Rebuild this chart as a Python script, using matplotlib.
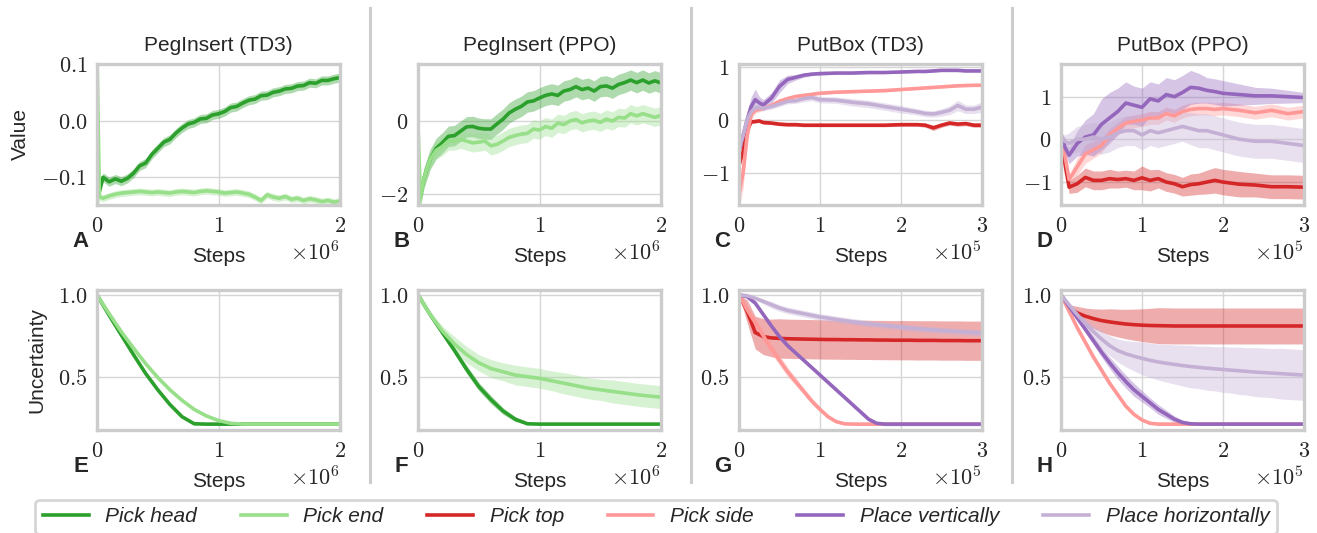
import numpy as np
import matplotlib
matplotlib.use("Agg")
import matplotlib.pyplot as plt
from matplotlib.lines import Line2D
from matplotlib.ticker import MultipleLocator, ScalarFormatter

plt.rcParams.update({
    "font.family": "Liberation Sans",
    "font.size": 15,
    "mathtext.fontset": "cm",
    "mathtext.default": "rm",
    "axes.edgecolor": "#cccccc",
    "axes.linewidth": 2.4,
    "axes.grid": True,
    "grid.color": "#d6d6d6",
    "grid.linewidth": 1.0,
    "xtick.major.size": 0,
    "ytick.major.size": 0,
    "xtick.major.pad": 8,
    "ytick.major.pad": 7,
    "xtick.labelsize": 16,
    "ytick.labelsize": 16,
    "axes.formatter.use_mathtext": True,
    "text.color": "#262626",
    "axes.labelcolor": "#262626",
    "xtick.color": "#262626",
    "ytick.color": "#262626",
})


class CMFormatter(ScalarFormatter):
    """ScalarFormatter whose labels are set in the Computer Modern math font."""

    def _set_format(self):
        super()._set_format()
        self.format = self.format.replace(r"\mathdefault", "")

    def get_offset(self):
        return super().get_offset().replace(r"\mathdefault", "")


TASKS = ["Pick head", "Pick end", "Pick top", "Pick side", "Place vertically", "Place horizontally"]
COLORS = ["#2ca02c", "#98df8a", "#d62728", "#ff9896", "#9467bd", "#c5b0d5"]
TITLES = ["PegInsert (TD3)", "PegInsert (PPO)", "PutBox (TD3)", "PutBox (PPO)"]
LETTERS = ["A", "B", "C", "D", "E", "F", "G", "H"]

# ---- value estimates, PegInsert (steps in millions) ----
steps_peg = [0.0, 0.02, 0.05, 0.10, 0.15, 0.20, 0.25, 0.30, 0.35, 0.40, 0.45, 0.50, 0.55, 0.60,
             0.65, 0.70, 0.75, 0.80, 0.85, 0.90, 0.95, 1.00, 1.05, 1.10, 1.15, 1.20, 1.25, 1.30,
             1.35, 1.40, 1.45, 1.50, 1.55, 1.60, 1.65, 1.70, 1.75, 1.80, 1.85, 1.90, 1.95, 2.00]

a_head = [-0.085, -0.125, -0.100, -0.108, -0.103, -0.107, -0.102, -0.093, -0.080, -0.075, -0.060,
          -0.049, -0.038, -0.033, -0.022, -0.013, -0.006, -0.003, 0.003, 0.004, 0.010, 0.012, 0.016,
          0.023, 0.025, 0.031, 0.036, 0.038, 0.044, 0.045, 0.050, 0.052, 0.056, 0.057, 0.061, 0.062,
          0.067, 0.066, 0.071, 0.071, 0.074, 0.076]
a_head_sd = 0.008
a_end = [0.12, -0.135, -0.137, -0.133, -0.130, -0.128, -0.127, -0.126, -0.125, -0.126, -0.127,
         -0.126, -0.127, -0.128, -0.126, -0.125, -0.126, -0.127, -0.125, -0.124, -0.125, -0.126,
         -0.128, -0.127, -0.126, -0.128, -0.130, -0.135, -0.141, -0.131, -0.135, -0.137, -0.134,
         -0.139, -0.137, -0.141, -0.138, -0.140, -0.143, -0.141, -0.144, -0.142]
a_end_sd = [0.30] + [0.006] * 41

b_head = [-2.10, -2.05, -1.55, -1.05, -0.75, -0.60, -0.42, -0.40, -0.28, -0.16, -0.15, -0.20,
          -0.22, -0.22, -0.08, 0.05, 0.22, 0.32, 0.40, 0.52, 0.55, 0.63, 0.70, 0.74, 0.70, 0.82,
          0.86, 0.94, 0.86, 0.90, 0.82, 0.94, 0.96, 0.90, 1.00, 1.05, 1.12, 1.05, 1.12, 1.04, 1.10, 1.04]
b_head_sd = 0.28
b_end = [-0.10, -2.10, -1.55, -1.05, -0.80, -0.70, -0.55, -0.55, -0.50, -0.55, -0.60, -0.58,
         -0.55, -0.68, -0.64, -0.55, -0.45, -0.40, -0.36, -0.34, -0.22, -0.25, -0.15, -0.20,
         -0.06, -0.10, 0.00, 0.04, -0.05, 0.00, 0.02, -0.04, 0.05, 0.00, 0.10, 0.08, 0.20, 0.14,
         0.20, 0.15, 0.10, 0.15]
b_end_sd = 0.25

# ---- value estimates, PutBox TD3 (steps in 1e5) ----
steps_c = [0.0, 0.05, 0.1, 0.15, 0.2, 0.25, 0.3, 0.4, 0.5, 0.6, 0.7, 0.8, 0.9, 1.0, 1.2, 1.4,
           1.6, 1.8, 2.0, 2.2, 2.3, 2.4, 2.5, 2.6, 2.7, 2.8, 2.9, 3.0]
c_top = [-0.85, -0.60, -0.20, -0.04, -0.03, -0.02, -0.05, -0.06, -0.08, -0.09, -0.09, -0.10, -0.10,
         -0.10, -0.10, -0.10, -0.10, -0.10, -0.09, -0.09, -0.10, -0.15, -0.10, -0.06, -0.08, -0.07,
         -0.10, -0.10]
c_top_sd = [0.10, 0.08, 0.05, 0.03, 0.03, 0.03, 0.03, 0.03, 0.03, 0.03, 0.03, 0.03, 0.03, 0.03,
            0.03, 0.03, 0.03, 0.03, 0.03, 0.03, 0.04, 0.05, 0.04, 0.04, 0.04, 0.04, 0.04, 0.04]
c_side = [-1.40, -1.00, -0.30, 0.10, 0.18, 0.20, 0.22, 0.27, 0.35, 0.40, 0.44, 0.46, 0.48, 0.50,
          0.52, 0.53, 0.54, 0.55, 0.57, 0.59, 0.60, 0.61, 0.62, 0.63, 0.64, 0.645, 0.65, 0.65]
c_side_sd = [0.25, 0.30, 0.20, 0.10, 0.06, 0.05, 0.04, 0.03, 0.03, 0.02, 0.02, 0.02, 0.02, 0.02,
             0.02, 0.02, 0.02, 0.02, 0.02, 0.02, 0.02, 0.02, 0.02, 0.02, 0.02, 0.02, 0.02, 0.02]
c_vert = [-0.57, -0.30, 0.00, 0.25, 0.38, 0.32, 0.28, 0.41, 0.63, 0.76, 0.80, 0.84, 0.86, 0.87,
          0.88, 0.88, 0.89, 0.89, 0.90, 0.91, 0.91, 0.92, 0.93, 0.93, 0.93, 0.92, 0.92, 0.92]
c_vert_sd = [0.10, 0.12, 0.15, 0.18, 0.20, 0.12, 0.10, 0.10, 0.12, 0.08, 0.05, 0.04, 0.03, 0.03,
             0.02, 0.02, 0.02, 0.02, 0.02, 0.02, 0.02, 0.02, 0.02, 0.02, 0.02, 0.02, 0.02, 0.02]
c_horiz = [-0.55, -0.30, 0.00, 0.15, 0.22, 0.23, 0.22, 0.25, 0.30, 0.35, 0.36, 0.40, 0.42, 0.38,
           0.37, 0.33, 0.30, 0.25, 0.20, 0.15, 0.12, 0.11, 0.14, 0.18, 0.27, 0.20, 0.20, 0.24]
c_horiz_sd = [0.10, 0.10, 0.10, 0.08, 0.06, 0.06, 0.05, 0.05, 0.05, 0.05, 0.05, 0.06, 0.06, 0.06,
              0.06, 0.07, 0.07, 0.07, 0.07, 0.06, 0.06, 0.06, 0.07, 0.08, 0.10, 0.08, 0.08, 0.10]

# ---- value estimates, PutBox PPO (steps in 1e5) ----
steps_d = [0.0, 0.05, 0.1, 0.2, 0.3, 0.4, 0.5, 0.6, 0.7, 0.8, 0.9, 1.0, 1.1, 1.2, 1.3, 1.4, 1.5,
           1.6, 1.7, 1.8, 1.9, 2.0, 2.2, 2.4, 2.6, 2.8, 3.0]
d_top = [0.05, -0.60, -1.13, -1.05, -0.90, -0.97, -0.97, -0.93, -0.95, -0.93, -0.97, -0.91, -0.97,
         -0.93, -1.01, -1.05, -1.12, -1.07, -1.05, -1.01, -0.97, -1.01, -1.06, -1.08, -1.12, -1.12, -1.13]
d_top_sd = [0.05, 0.15, 0.15, 0.20, 0.22, 0.22, 0.22, 0.22, 0.20, 0.20, 0.22, 0.28, 0.25, 0.22,
            0.22, 0.22, 0.22, 0.25, 0.25, 0.28, 0.30, 0.30, 0.30, 0.28, 0.28, 0.28, 0.28]
d_side = [0.05, -0.40, -0.95, -0.65, -0.35, -0.25, -0.15, 0.10, 0.25, 0.38, 0.42, 0.45, 0.50, 0.50,
          0.60, 0.55, 0.65, 0.70, 0.72, 0.72, 0.70, 0.72, 0.68, 0.62, 0.68, 0.60, 0.65]
d_side_sd = [0.05, 0.10, 0.12, 0.20, 0.22, 0.20, 0.18, 0.15, 0.15, 0.15, 0.15, 0.15, 0.15, 0.15,
             0.15, 0.15, 0.15, 0.15, 0.15, 0.15, 0.15, 0.15, 0.15, 0.15, 0.15, 0.15, 0.15]
d_vert = [0.10, -0.20, -0.38, -0.10, 0.05, 0.10, 0.35, 0.50, 0.65, 0.85, 0.80, 0.75, 0.95, 0.90,
          1.05, 1.00, 1.10, 1.22, 1.20, 1.15, 1.12, 1.08, 1.05, 1.02, 1.02, 1.00, 0.98]
d_vert_sd = [0.05, 0.15, 0.20, 0.30, 0.40, 0.50, 0.60, 0.60, 0.55, 0.50, 0.45, 0.45, 0.40, 0.40,
             0.40, 0.40, 0.40, 0.40, 0.35, 0.30, 0.30, 0.30, 0.25, 0.20, 0.18, 0.15, 0.12]
d_horiz = [0.10, -0.05, -0.10, 0.00, 0.00, 0.05, 0.00, 0.05, 0.15, 0.20, 0.20, 0.10, 0.20, 0.15,
           0.20, 0.25, 0.30, 0.25, 0.20, 0.20, 0.15, 0.10, 0.00, -0.05, -0.05, -0.10, -0.15]
d_horiz_sd = [0.05, 0.15, 0.25, 0.30, 0.35, 0.35, 0.35, 0.35, 0.35, 0.35, 0.35, 0.35, 0.35, 0.35,
              0.35, 0.35, 0.35, 0.38, 0.40, 0.40, 0.40, 0.40, 0.40, 0.40, 0.40, 0.40, 0.40]

# ---- uncertainty estimates ----
steps_unc_peg = [0.0, 0.1, 0.2, 0.3, 0.4, 0.5, 0.6, 0.7, 0.8, 0.9, 1.0, 1.1, 1.2, 1.3, 1.4, 1.5,
                 1.6, 1.7, 1.8, 1.9, 2.0]
e_head = [1.0, 0.875, 0.755, 0.635, 0.52, 0.42, 0.33, 0.255, 0.212] + [0.21] * 12
e_head_sd = 0.006
e_end = [1.0, 0.885, 0.775, 0.675, 0.58, 0.495, 0.42, 0.355, 0.30, 0.26, 0.232, 0.215] + [0.21] * 9
e_end_sd = 0.004

f_head = [1.0, 0.88, 0.77, 0.66, 0.545, 0.44, 0.36, 0.29, 0.24, 0.212] + [0.21] * 11
f_head_sd = [0.0, 0.01, 0.015, 0.02, 0.025, 0.025, 0.025, 0.02, 0.015, 0.005] + [0.0] * 11
f_end = [1.0, 0.88, 0.78, 0.70, 0.635, 0.585, 0.55, 0.53, 0.51, 0.50, 0.49, 0.475, 0.46, 0.445,
         0.43, 0.42, 0.41, 0.40, 0.39, 0.382, 0.375]
f_end_sd = [0.0, 0.015, 0.03, 0.045, 0.05, 0.05, 0.055, 0.055, 0.06, 0.06, 0.06, 0.06, 0.065,
            0.065, 0.065, 0.065, 0.07, 0.07, 0.07, 0.07, 0.07]

steps_unc_box = [0.0, 0.1, 0.2, 0.3, 0.4, 0.5, 0.6, 0.7, 0.8, 0.9, 1.0, 1.1, 1.2, 1.3, 1.4, 1.5,
                 1.6, 1.7, 1.8, 1.9, 2.0, 2.1, 2.2, 2.3, 2.4, 2.5, 2.6, 2.7, 2.8, 2.9, 3.0]
g_top = [1.0, 0.90, 0.77, 0.745, 0.737, 0.734, 0.732, 0.731, 0.730, 0.729, 0.728, 0.727, 0.727,
         0.726, 0.726, 0.725, 0.725, 0.724, 0.724, 0.723, 0.723, 0.723, 0.722, 0.722, 0.722, 0.721,
         0.721, 0.721, 0.720, 0.720, 0.720]
g_top_sd = [0.0, 0.07, 0.10, 0.11, 0.115] + [0.12] * 26
g_side = [1.0, 0.91, 0.83, 0.75, 0.67, 0.60, 0.53, 0.47, 0.41, 0.35, 0.30, 0.255, 0.225, 0.212] + [0.21] * 17
g_side_sd = [0.0, 0.02, 0.03, 0.03, 0.03, 0.03, 0.03, 0.025, 0.02, 0.02, 0.015, 0.01, 0.008] + [0.004] * 18
g_vert = [1.0, 0.99, 0.95, 0.88, 0.81, 0.745, 0.69, 0.645, 0.60, 0.555, 0.51, 0.465, 0.42, 0.375,
          0.33, 0.285, 0.24, 0.215] + [0.21] * 13
g_vert_sd = 0.01
g_horiz = [1.0, 0.995, 0.98, 0.96, 0.94, 0.92, 0.905, 0.895, 0.885, 0.875, 0.865, 0.858, 0.85,
           0.843, 0.836, 0.83, 0.824, 0.818, 0.813, 0.808, 0.803, 0.798, 0.794, 0.79, 0.786, 0.782,
           0.779, 0.776, 0.773, 0.77, 0.767]
g_horiz_sd = [0.0, 0.005, 0.01, 0.015] + [0.02] * 27

h_top = [1.0, 0.92, 0.89, 0.87, 0.855, 0.843, 0.835, 0.828, 0.822, 0.818, 0.815, 0.813, 0.812,
         0.811] + [0.81] * 17
h_top_sd = [0.0, 0.02, 0.04, 0.05, 0.06, 0.07, 0.08, 0.085, 0.09, 0.095, 0.10, 0.105] + [0.11] * 19
h_side = [1.0, 0.90, 0.80, 0.71, 0.62, 0.54, 0.46, 0.39, 0.32, 0.27, 0.235, 0.215] + [0.21] * 19
h_side_sd = [0.0, 0.01, 0.015, 0.02, 0.02, 0.02, 0.02, 0.015, 0.015, 0.01, 0.008] + [0.004] * 20
h_vert = [1.0, 0.93, 0.86, 0.79, 0.72, 0.65, 0.585, 0.525, 0.47, 0.42, 0.38, 0.34, 0.30, 0.27,
          0.24, 0.22, 0.212] + [0.21] * 14
h_vert_sd = [0.0, 0.01, 0.015, 0.02, 0.025, 0.03, 0.035, 0.04, 0.04, 0.04, 0.035, 0.03, 0.03,
             0.025, 0.02, 0.015, 0.01] + [0.005] * 14
h_horiz = [1.0, 0.94, 0.88, 0.825, 0.775, 0.73, 0.69, 0.66, 0.64, 0.625, 0.612, 0.60, 0.59, 0.582,
           0.575, 0.568, 0.562, 0.557, 0.552, 0.548, 0.544, 0.54, 0.536, 0.532, 0.528, 0.525, 0.522,
           0.519, 0.516, 0.513, 0.51]
h_horiz_sd = [0.0, 0.01, 0.02, 0.03, 0.04, 0.05, 0.06, 0.07, 0.08, 0.09, 0.10, 0.105, 0.11, 0.115,
              0.12, 0.125, 0.13, 0.13, 0.135, 0.135, 0.14, 0.14, 0.145, 0.145, 0.15, 0.15, 0.15,
              0.155, 0.155, 0.155, 0.155]

# panel contents: (steps, step scale, [(task index, mean, spread), ...])
panels = [
    (steps_peg, 1e6, [(0, a_head, a_head_sd), (1, a_end, a_end_sd)]),
    (steps_peg, 1e6, [(0, b_head, b_head_sd), (1, b_end, b_end_sd)]),
    (steps_c, 1e5, [(2, c_top, c_top_sd), (3, c_side, c_side_sd),
                    (4, c_vert, c_vert_sd), (5, c_horiz, c_horiz_sd)]),
    (steps_d, 1e5, [(2, d_top, d_top_sd), (3, d_side, d_side_sd),
                    (4, d_vert, d_vert_sd), (5, d_horiz, d_horiz_sd)]),
    (steps_unc_peg, 1e6, [(0, e_head, e_head_sd), (1, e_end, e_end_sd)]),
    (steps_unc_peg, 1e6, [(0, f_head, f_head_sd), (1, f_end, f_end_sd)]),
    (steps_unc_box, 1e5, [(2, g_top, g_top_sd), (3, g_side, g_side_sd),
                          (4, g_vert, g_vert_sd), (5, g_horiz, g_horiz_sd)]),
    (steps_unc_box, 1e5, [(2, h_top, h_top_sd), (3, h_side, h_side_sd),
                          (4, h_vert, h_vert_sd), (5, h_horiz, h_horiz_sd)]),
]
ylims = [(-0.149, 0.1), (-2.3, 1.56), (-1.6, 1.05), (-1.55, 1.77)] + [(0.174, 1.03)] * 4
ysteps = [0.1, 2, 1, 1] + [0.5] * 4
xmax = [2, 2, 3, 3, 2, 2, 3, 3]

W, H = 1317, 533
fig = plt.figure(figsize=(W / 100, H / 100), dpi=100)

lefts = [97, 418, 739, 1061]
rows = [(64, 205), (290, 430)]
axw = 243

for i, (steps, scale, series) in enumerate(panels):
    top, bottom = rows[i // 4]
    left = lefts[i % 4]
    ax = fig.add_axes([left / W, 1 - bottom / H, axw / W, (bottom - top) / H])
    x = np.asarray(steps) * scale
    for k, mean, sd in series:
        mean = np.asarray(mean)
        sd = np.asarray(sd)
        ax.fill_between(x, mean - sd, mean + sd, color=COLORS[k], alpha=0.38, lw=0)
        ax.plot(x, mean, color=COLORS[k], lw=2.6)
    ax.set_xlim(0, xmax[i] * scale)
    ax.set_ylim(*ylims[i])
    ax.xaxis.set_major_locator(MultipleLocator(scale))
    ax.yaxis.set_major_locator(MultipleLocator(ysteps[i]))
    xfmt = CMFormatter(useMathText=True)
    xfmt.set_powerlimits((0, 0))
    ax.xaxis.set_major_formatter(xfmt)
    ax.yaxis.set_major_formatter(CMFormatter(useMathText=True))
    ax.xaxis.get_offset_text().set_fontsize(16)
    ax.set_xlabel("Steps", labelpad=7)
    ax.grid(True)
    ax.set_axisbelow(True)
    ax.text(-0.068, -0.26, LETTERS[i], transform=ax.transAxes, ha="center", va="center",
            fontsize=16, fontweight="bold")
    if i < 4:
        ax.set_title(TITLES[i], fontsize=15, pad=9)
    if i == 0:
        ax.set_ylabel("Value", labelpad=8)
    if i == 4:
        ax.set_ylabel("Uncertainty", labelpad=8)

# column separators
for xs in [370, 691, 1012]:
    fig.add_artist(Line2D([xs / W, xs / W], [1 - 8 / H, 1 - 482 / H], transform=fig.transFigure,
                          color="#cccccc", lw=2.2))

handles = [Line2D([], [], color=c, lw=2.6) for c in COLORS]
leg = fig.legend(handles, TASKS, loc="center", bbox_to_anchor=(656 / W, 1 - 517 / H), ncol=6,
                 prop={"style": "italic", "size": 15}, handlelength=2.2, handletextpad=0.8,
                 columnspacing=2.1, borderpad=0.35, frameon=True, fancybox=True)
leg.get_frame().set_edgecolor("#cccccc")
leg.get_frame().set_linewidth(2.0)

fig.savefig("out.png", dpi=100)
